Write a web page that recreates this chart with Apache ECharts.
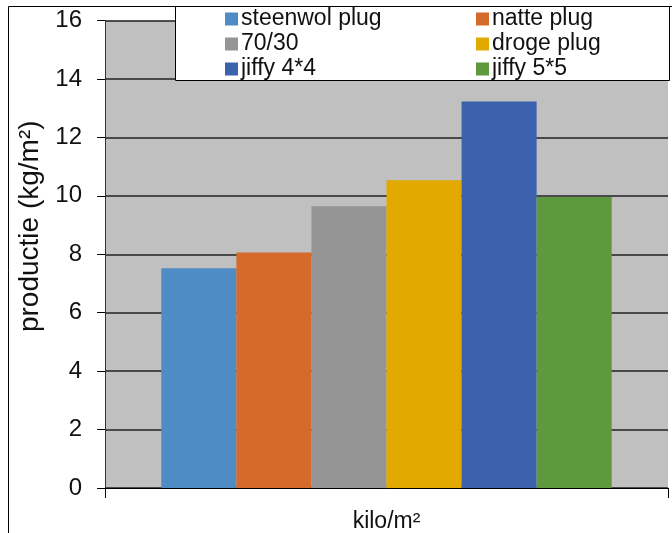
<!DOCTYPE html>
<html>
<head>
<meta charset="utf-8">
<script src="https://cdn.jsdelivr.net/npm/echarts@6/dist/echarts.min.js"></script>
<style>
  html, body { margin: 0; padding: 0; background: #fff; }
  #chart { width: 672px; height: 533px; }
</style>
</head>
<body>
<div id="chart"></div>
<script>
// Production per treatment (kg/m²)
const categories = ['kilo/m²'];
const seriesNames = ['steenwol plug', 'natte plug', '70/30', 'droge plug', 'jiffy 4*4', 'jiffy 5*5'];
const seriesValues = [7.52, 8.06, 9.64, 10.53, 13.23, 9.96];
const seriesColors = ['#4f8bc4', '#d46b2a', '#959595', '#e2a900', '#3c62ad', '#5f993e'];
const yTicks = { min: 0, max: 16, interval: 2 };

const FONT = '"Liberation Sans", Arial, sans-serif';

const chart = echarts.init(document.getElementById('chart'), null, { renderer: 'canvas' });

const series = seriesNames.map((name, i) => ({
  name: name,
  type: 'bar',
  data: [seriesValues[i]],
  barGap: '0%',
  barCategoryGap: '20%',
  itemStyle: { color: seriesColors[i] },
  z: 5
}));

const legendCommon = {
  orient: 'vertical',
  top: 7,
  itemWidth: 13,
  itemHeight: 13,
  itemGap: 1,
  padding: 0,
  icon: 'rect',
  selectedMode: false,
  textStyle: { fontFamily: FONT, fontSize: 23, color: '#111', lineHeight: 24, padding: [0, 0, 0, -2] },
  z: 20
};

chart.setOption({
  animation: false,
  backgroundColor: '#ffffff',
  grid: {
    left: 105, right: 4, top: 20.5, bottom: 45,
    show: true, backgroundColor: '#c0c0c0', borderWidth: 0
  },
  legend: [
    Object.assign({}, legendCommon, { left: 225, data: [seriesNames[0], seriesNames[2], seriesNames[4]] }),
    Object.assign({}, legendCommon, { left: 476, data: [seriesNames[1], seriesNames[3], seriesNames[5]] })
  ],
  graphic: [
    {
      type: 'rect', z: 15,
      shape: { x: 8.5, y: 6.5, width: 700, height: 600 },
      style: { fill: null, stroke: '#000', lineWidth: 1 }
    },
    {
      type: 'rect', z: 15,
      shape: { x: 175.5, y: 6.5, width: 494, height: 74 },
      style: { fill: '#ffffff', stroke: '#000', lineWidth: 1 }
    }
  ],
  xAxis: {
    type: 'category',
    data: categories,
    axisLine: { show: true, lineStyle: { color: '#000', width: 1 } },
    axisTick: { show: true, alignWithLabel: false, length: 10, lineStyle: { color: '#000' } },
    axisLabel: { fontFamily: FONT, fontSize: 23, color: '#111', margin: 22 },
    splitLine: { show: false }
  },
  yAxis: {
    type: 'value',
    min: yTicks.min, max: yTicks.max, interval: yTicks.interval,
    name: 'productie (kg/m²)',
    nameLocation: 'middle',
    nameRotate: 90,
    nameGap: 52,
    nameTextStyle: { fontFamily: FONT, fontSize: 28, color: '#111', padding: [0, 0, 0, 56] },
    axisLine: { show: true, lineStyle: { color: '#333', width: 1 } },
    axisTick: { show: true, inside: false, length: 8, lineStyle: { color: '#000' } },
    axisLabel: { fontFamily: FONT, fontSize: 24, color: '#111', margin: 23 },
    splitLine: { show: true, lineStyle: { color: '#222', width: 1.5 } }
  },
  series: series
});
</script>
</body>
</html>
